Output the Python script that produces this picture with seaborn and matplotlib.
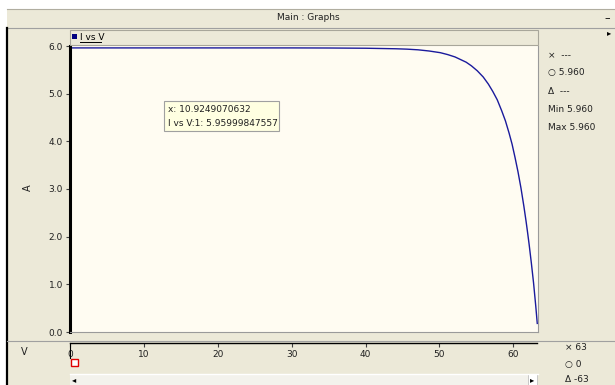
import numpy as np
import pandas as pd
import seaborn as sns
import matplotlib.pyplot as plt
from matplotlib.patches import Rectangle
from matplotlib.lines import Line2D

# I-V curve
volts = [0, 10, 20, 30, 35, 40, 44, 45.5, 47, 48.5, 50, 51, 52, 53.5, 54.2, 55,
         55.8, 56.5, 57.1, 57.7, 58.3, 58.8, 59.3, 59.7, 60.1, 60.5, 60.9, 61.3,
         61.6, 61.8, 62.0, 62.3, 62.6, 62.9, 63.1]
amps = [5.96, 5.96, 5.96, 5.96, 5.958, 5.953, 5.942, 5.934, 5.92, 5.895, 5.86, 5.82,
        5.77, 5.66, 5.585, 5.48, 5.35, 5.20, 5.045, 4.87, 4.64, 4.43, 4.17, 3.94,
        3.66, 3.36, 3.02, 2.63, 2.31, 2.08, 1.84, 1.45, 1.03, 0.54, 0.18]
x_ticks = [0, 10, 20, 30, 40, 50, 60]
y_ticks = [0.0, 1.0, 2.0, 3.0, 4.0, 5.0, 6.0]
series_name = "I vs V"
cursor_x = "10.9249070632"
cursor_y = "5.95999847557"
side_top = ["×  ---", "○ 5.960", "Δ  ---", "Min 5.960", "Max 5.960"]
side_bottom = ["× 63", "○ 0", "Δ -63"]

df = pd.DataFrame({"V": volts, "A": amps})

W, H = 615, 385
BG = "#ECE9D8"
FONT = "DejaVu Sans"
plt.rcParams["font.family"] = FONT


def fx(px):
    return px / W


def fy(py):
    return 1 - py / H


def ftext(px, py, s, **kw):
    kw.setdefault("fontsize", 6.5)
    kw.setdefault("color", "#202020")
    fig.text(fx(px), fy(py), s, **kw)


fig = plt.figure(figsize=(W / 100, H / 100), dpi=100, facecolor="white")

# window background and frame
fig.patches.append(Rectangle((fx(7), 0), fx(608), fy(9), transform=fig.transFigure,
                             facecolor=BG, edgecolor="none", zorder=-10))
fig.lines.append(Line2D([fx(7), 1], [fy(9), fy(9)], transform=fig.transFigure,
                        color="#b0ada0", lw=0.8))
fig.lines.append(Line2D([fx(7), 1], [fy(28), fy(28)], transform=fig.transFigure,
                        color="#a0a0a0", lw=0.8))
fig.lines.append(Line2D([fx(7), fx(7)], [0, fy(28)], transform=fig.transFigure,
                        color="black", lw=1.6))
fig.lines.append(Line2D([fx(7), 1], [fy(341), fy(341)], transform=fig.transFigure,
                        color="#a0a0a0", lw=0.8))
ftext(308, 18, "Main : Graphs", ha="center", va="center")
ftext(607, 18, "–", ha="center", va="center", fontsize=8, color="black")
ftext(609, 33, "▸", ha="center", va="center", fontsize=6, color="black")

# legend strip
fig.patches.append(Rectangle((fx(70), fy(45)), fx(468), 15 / H, transform=fig.transFigure,
                             facecolor=BG, edgecolor="#a8a69a", lw=0.8))
fig.patches.append(Rectangle((fx(72), fy(39)), fx(5), 5 / H, transform=fig.transFigure,
                             facecolor="#000080", edgecolor="none"))
ftext(80, 37, series_name, ha="left", va="center", color="black")
fig.lines.append(Line2D([fx(80), fx(101)], [fy(42), fy(42)], transform=fig.transFigure,
                        color="black", lw=0.7))

# main plot
ax = fig.add_axes([fx(70), fy(332), fx(468), 286 / H])
ax.set_facecolor("#FFFCF2")
sns.lineplot(data=df, x="V", y="A", ax=ax, color="#1a1a9c", lw=1.0)
ax.set_xlim(0, 63.2)
ax.set_ylim(0, 6.0)
ax.set_xticks([])
ax.set_yticks(y_ticks)
ax.set_yticklabels([f"{t:.1f}" for t in y_ticks])
ax.tick_params(axis="y", direction="out", length=3, width=0.8, color="#404040",
               labelsize=6.5, labelcolor="#202020", pad=2)
ax.set_xlabel("")
ax.set_ylabel("")
for side in ["top", "right", "bottom"]:
    ax.spines[side].set_color("#9a9a9a")
    ax.spines[side].set_linewidth(0.8)
ax.spines["left"].set_color("black")
ax.spines["left"].set_linewidth(2.2)
ax.spines["top"].set_visible(False)

ftext(28, 188, "A", ha="center", va="center", rotation=90, fontsize=7)
ftext(24, 352, "V", ha="center", va="center", fontsize=7)

# x scale strip below the plot
axx = fig.add_axes([fx(70), fy(343), fx(467), 0.0001])
axx.set_xlim(ax.get_xlim())
axx.set_xticks(x_ticks)
axx.set_yticks([])
axx.patch.set_visible(False)
for side in ["top", "right", "left"]:
    axx.spines[side].set_visible(False)
axx.spines["bottom"].set_color("black")
axx.spines["bottom"].set_linewidth(1.0)
axx.tick_params(axis="x", direction="out", length=3, width=0.8, color="#404040",
                labelsize=6.5, labelcolor="#202020", pad=2)

# cursor tooltip
fig.patches.append(Rectangle((fx(164), fy(131)), fx(115), 30 / H, transform=fig.transFigure,
                             facecolor="#FFFFE1", edgecolor="#a0a0a0", lw=0.8, zorder=5))
ftext(168, 110, f"x: {cursor_x}", ha="left", va="center", zorder=6)
ftext(168, 123, f"{series_name}:1: {cursor_y}", ha="left", va="center", zorder=6)

# cursor marker
fig.lines.append(Line2D([fx(70), fx(70)], [fy(343), fy(358)], transform=fig.transFigure,
                        color="black", lw=0.8))
fig.patches.append(Rectangle((fx(71), fy(366)), 7 / W, 7 / H, transform=fig.transFigure,
                             facecolor="white", edgecolor="#e00000", lw=1.0))

# side readouts
for i, s in enumerate(side_top):
    ftext(548, 55 + i * 18, s, ha="left", va="center")
for i, s in enumerate(side_bottom):
    ftext(565, 348 + i * 16, s, ha="left", va="center")

# scrollbar
fig.patches.append(Rectangle((fx(70), 0), fx(468), 11 / H, transform=fig.transFigure,
                             facecolor="#F3F2EC", edgecolor="none"))
fig.lines.append(Line2D([fx(70), fx(538)], [fy(374), fy(374)], transform=fig.transFigure,
                        color="white", lw=1.0))
ftext(74, 380, "◂", ha="center", va="center", fontsize=6, color="black")
fig.patches.append(Rectangle((fx(528), 0), 9 / W, 11 / H, transform=fig.transFigure,
                             facecolor="white", edgecolor="#c0c0c0", lw=0.6))
ftext(532.5, 380, "▸", ha="center", va="center", fontsize=6, color="black")

fig.savefig("out.png", dpi=100, facecolor=fig.get_facecolor())
